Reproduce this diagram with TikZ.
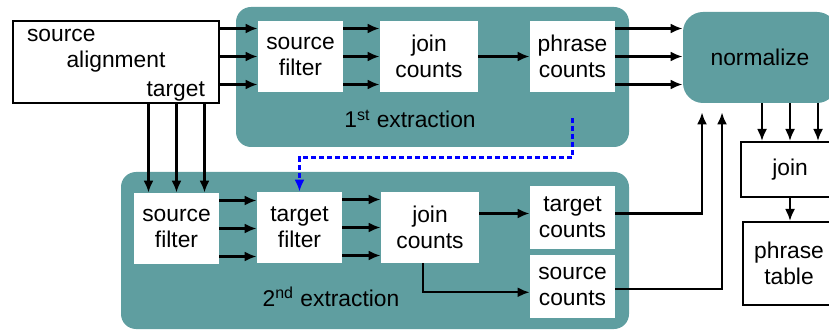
\documentclass[tikz,border=0pt]{standalone}
\usepackage{fontspec}
\setmainfont{Liberation Sans}
\usetikzlibrary{arrows.meta,positioning}
\definecolor{stagecol}{RGB}{95,158,160}
\tikzset{
  stage/.style={fill=stagecol, rounded corners=7.5pt, inner sep=0pt},
  box/.style={fill=white, align=center, inner sep=0pt, minimum width=42.5pt, minimum height=35.5pt},
  frame/.style={draw=black, line width=1pt, fill=white, align=center, inner sep=0pt},
  flow/.style={-{Latex[length=6pt,width=5pt]}, line width=1.1pt},
  link/.style={-{Latex[length=6pt,width=5pt]}, line width=1.1pt, blue, dash pattern=on 2.5pt off 1.5pt}
}

\begin{document}
\begin{tikzpicture}[x=0.5pt, y=-0.5pt, font=\fontsize{11.4}{13}\selectfont]
  \useasboundingbox (0,0) rectangle (829,331);
  % the two extraction passes
  \node[stage, minimum width=196.5pt, minimum height=70pt] (ext1) at (432.5,77) {};
  \node[stage, minimum width=254pt, minimum height=78.5pt] (ext2) at (375,250.5) {};
  \node[anchor=base] (ext1lbl) at (410,128) {1\textsuperscript{st} extraction};
  \node[anchor=base] (ext2lbl) at (331,306) {2\textsuperscript{nd} extraction};

  % input
  \node[frame, minimum width=103pt, minimum height=41pt] (align) at (116,62) {};
  \node[anchor=base west] (alsrc) at (20,42) {source};
  \node[anchor=base] (alaln) at (116,68) {alignment};
  \node[anchor=base east] (altgt) at (212,97) {target};

  % 1st pass
  \node[box] (sf1) at (300.5,56.5) {source\\filter};
  \node[box, minimum width=49pt] (jc1) at (429,56.5) {join\\counts};
  \node[box] (pc1) at (572.5,56.5) {phrase\\counts};

  % 2nd pass
  \node[box] (sf2) at (176.5,228.5) {source\\filter};
  \node[box] (tf2) at (299.5,227.5) {target\\filter};
  \node[box, minimum width=49pt] (jc2) at (430,227.5) {join\\counts};
  \node[box, minimum height=31.5pt] (tc2) at (572.5,217.5) {target\\counts};
  \node[box, minimum height=31.5pt] (sc2) [below=2.5pt of tc2] {source\\counts};

  % output
  \node[stage, rounded corners=10pt, minimum width=77pt, minimum height=45.5pt] (norm) at (760,57.5) {normalize};
  \node[frame, minimum width=49pt, minimum height=27.5pt] (joinb) at (790,169.5) {join};
  \node[frame, minimum width=46pt, minimum height=41.5pt] (table) at (789,263.5) {phrase\\table};

  \foreach \dy in {14,0,-14} {
    \draw[flow] ([yshift=\dy pt]sf1.west -| align.east) -- ([yshift=\dy pt]sf1.west);
    \draw[flow] ([yshift=\dy pt]sf1.east) -- ([yshift=\dy pt]sf1.east -| jc1.west);
    \draw[flow] ([yshift=\dy pt]pc1.east) -- ([yshift=\dy pt]pc1.east -| norm.west);
    \draw[flow] ([yshift=\dy pt]sf2.east) -- ([yshift=\dy pt]sf2.east -| tf2.west);
    \draw[flow] ([yshift=\dy pt]tf2.east) -- ([yshift=\dy pt]tf2.east -| jc2.west);
    \draw[flow] ([xshift=\dy pt]sf2.north |- align.south) -- ([xshift=\dy pt]sf2.north);
    \draw[flow] ([xshift=\dy pt]joinb.north |- norm.south) -- ([xshift=\dy pt]joinb.north);
  }
  \draw[flow] (jc1) -- (pc1);
  \draw[flow] ([yshift=2pt]tc2.west -| jc2.east) -- ([yshift=2pt]tc2.west);
  \draw[flow] ([xshift=-3.5pt]jc2.south) |- ([yshift=-3pt]sc2.west);
  \draw[flow] ([yshift=2pt]tc2.east) -| ([xshift=-29pt,yshift=-4.5pt]norm.south);
  \draw[flow] ([yshift=-1.5pt]sc2.east) -| ([xshift=-19pt,yshift=-4.5pt]norm.south);
  \draw[flow] (joinb.south) -- (joinb.south |- table.north);
  % second pass only keeps what the first one found
  \draw[link] ([yshift=-13pt]pc1.south) |- ([yshift=17pt]tf2.north) -- (tf2.north);
\end{tikzpicture}
\end{document}
